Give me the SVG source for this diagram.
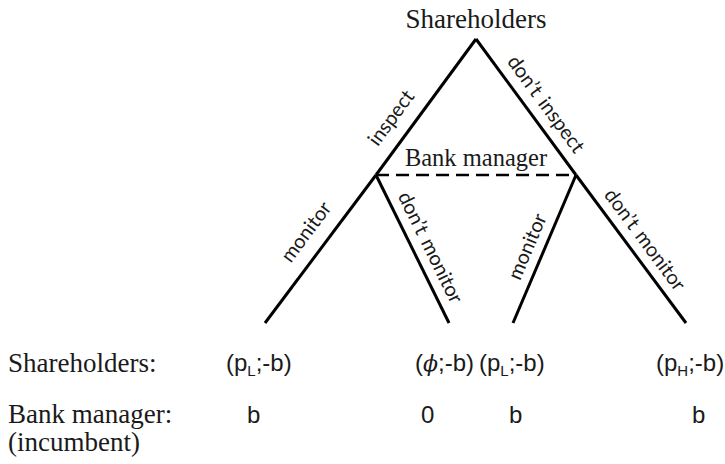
<svg xmlns="http://www.w3.org/2000/svg" width="725" height="464" viewBox="0 0 725 464">
<style>
.edge{stroke:#000;stroke-width:3;fill:none;stroke-linecap:butt}
.info{stroke:#000;stroke-width:2.6;fill:none;stroke-dasharray:13 7}
.serif{font-family:"Liberation Serif","Times New Roman",serif;font-size:27px;fill:#1a1a1a}
.lab{font-family:Lato,"Open Sans",sans-serif;font-size:20px;fill:#1a1a1a;text-anchor:middle;word-spacing:2px}
.pay{font-family:"Liberation Sans",Arial,sans-serif;font-size:24px;fill:#1a1a1a}
.sub{font-size:15px}
</style>
<rect width="725" height="464" fill="#fff"/>
<g id="connectors">
  <line class="edge" x1="476" y1="39" x2="376" y2="175"/>
  <line class="edge" x1="476" y1="39" x2="576" y2="175"/>
  <line class="edge" x1="376" y1="175" x2="265" y2="323"/>
  <line class="edge" x1="376" y1="175" x2="449" y2="323"/>
  <line class="edge" x1="576" y1="175" x2="513" y2="323"/>
  <line class="edge" x1="576" y1="175" x2="686" y2="323"/>
  <line class="info" x1="376" y1="175" x2="576" y2="175"/>
</g>
<g id="edge-labels">
  <text class="lab" transform="translate(408.6,130.7) rotate(-53.67)" y="-15">inspect</text>
  <text class="lab" transform="translate(531.7,114.7) rotate(53.67)" y="-11">don’t inspect</text>
  <text class="lab" transform="translate(323.5,245) rotate(-53.13)" y="-15">monitor</text>
  <text class="lab" transform="translate(415.3,254.8) rotate(63.74)" y="-10">don’t monitor</text>
  <text class="lab" transform="translate(542.7,253.1) rotate(-66.94)" y="-10">monitor</text>
  <text class="lab" transform="translate(631.4,249.6) rotate(53.37)" y="-10">don’t monitor</text>
</g>
<g id="node-shareholders">
  <text class="serif" x="476" y="28" text-anchor="middle">Shareholders</text>
</g>
<g id="node-bank-manager">
  <text class="serif" x="476" y="166" text-anchor="middle" style="font-size:24.5px">Bank manager</text>
</g>
<g id="row-labels">
  <text class="serif" x="8" y="372">Shareholders:</text>
  <text class="serif" x="8" y="423">Bank manager:</text>
  <text class="serif" x="8" y="451">(incumbent)</text>
</g>
<g id="leaf-1">
  <text class="pay" x="226" y="371">(p<tspan class="sub" dy="5">L</tspan><tspan dy="-5">;-b)</tspan></text>
  <text class="pay" x="247" y="423">b</text>
</g>
<g id="leaf-2">
  <text class="pay" x="415" y="371">(<tspan font-family="'DejaVu Serif',serif" font-style="italic" font-size="22">ϕ</tspan>;-b)</text>
  <text class="pay" x="421" y="423">0</text>
</g>
<g id="leaf-3">
  <text class="pay" x="479" y="371">(p<tspan class="sub" dy="5">L</tspan><tspan dy="-5">;-b)</tspan></text>
  <text class="pay" x="509" y="423">b</text>
</g>
<g id="leaf-4">
  <text class="pay" x="656" y="371">(p<tspan class="sub" dy="5">H</tspan><tspan dy="-5">;-b)</tspan></text>
  <text class="pay" x="692" y="423">b</text>
</g>
</svg>
